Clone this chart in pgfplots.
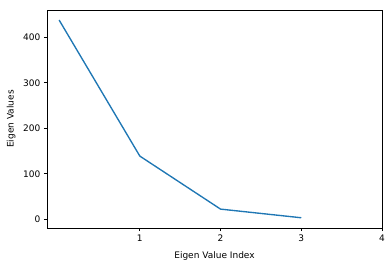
\documentclass[border=0pt]{standalone}
\usepackage{pgfplots}
\pgfplotsset{compat=1.18}
\usepackage{fontspec}
\setmainfont{DejaVu Sans}
\definecolor{tabblue}{HTML}{1F77B4}
\begin{document}
\begin{tikzpicture}[x=1pt,y=1pt]
\useasboundingbox (-47,-38) rectangle (345,228);
\begin{axis}[
  at={(0,0)}, anchor=south west,
  scale only axis, width=335pt, height=218pt,
  xmin=-0.15, xmax=4, ymin=-19, ymax=460,
  xtick={1,2,3,4}, ytick={0,100,200,300,400},
  tick align=outside, tick pos=lower,
  major tick length=3.2pt,
  every tick/.style={black, line width=0.7pt},
  axis line style={line width=0.7pt},
  tick label style={font=\fontsize{9}{10}\selectfont},
  label style={font=\fontsize{9}{10}\selectfont},
  /pgf/number format/assume math mode=true,
  xlabel={Eigen Value Index}, ylabel={Eigen Values},
  xlabel style={at={(axis description cs:0.5,-0.128)}, anchor=center},
  ylabel style={at={(axis description cs:-0.107,0.5)}, anchor=center},
  clip=false,
]
\addplot[color=tabblue, line width=1.36pt, mark=none] coordinates {
  (0,438) (1,139) (2,22.5) (3,3.5)
};
\end{axis}
\end{tikzpicture}
\end{document}
